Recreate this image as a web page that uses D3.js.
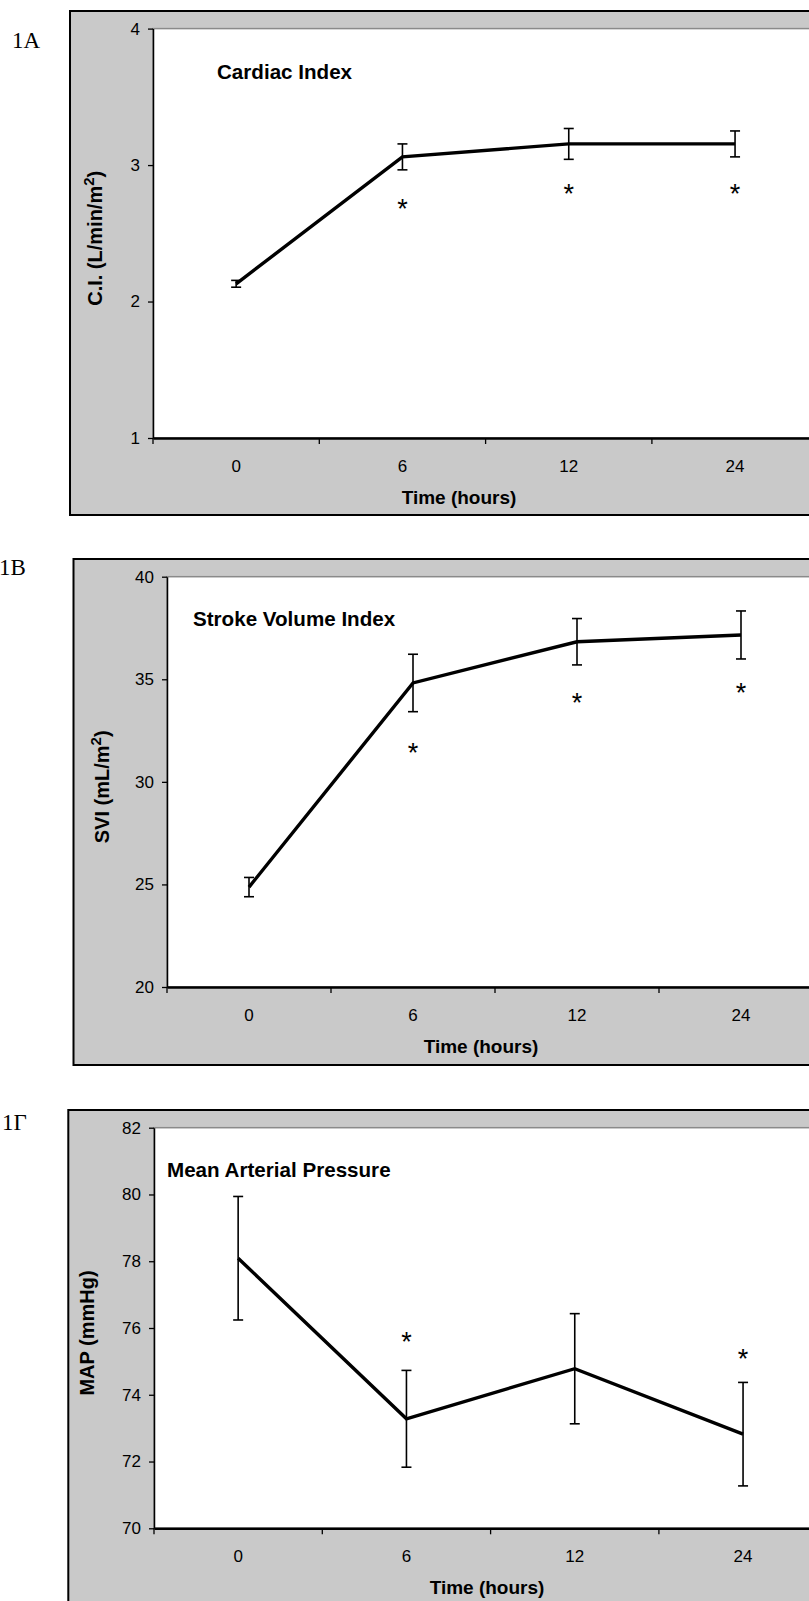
<!DOCTYPE html>
<html>
<head>
<meta charset="utf-8">
<script src="https://cdn.jsdelivr.net/npm/d3@7"></script>
<style>
  body { margin: 0; background: #fff; }
  svg { display: block; }
  .tick text { font-family: "Liberation Sans", Arial, sans-serif; font-size: 17px; fill: #000; }
</style>
</head>
<body>
<svg id="fig" width="809" height="1601"></svg>
<script>
// time points (categories on x)
const timeLabels = ["0", "6", "12", "24"];

// 1A cardiac index
const ciMean = [2.13, 3.06, 3.155, 3.155];
const ciSem = [0.025, 0.095, 0.113, 0.095];
const ciStar = [null, 2.72, 2.83, 2.83];
const ciTicks = [1, 2, 3, 4];

// 1B stroke volume index
const sviMean = [24.87, 34.82, 36.83, 37.16];
const sviSem = [0.47, 1.4, 1.13, 1.17];
const sviStar = [null, 31.68, 34.15, 34.6];
const sviTicks = [20, 25, 30, 35, 40];

// 1Γ mean arterial pressure
const mapMean = [78.09, 73.28, 74.78, 72.82];
const mapSem = [1.85, 1.45, 1.65, 1.55];
const mapStar = [null, 75.76, null, 75.24];
const mapTicks = [70, 72, 74, 76, 78, 80, 82];

const panels = [
  {
    tag: "1Α", tagX: 12, tagY: 48,
    title: "Cardiac Index", ylabel: ["C.I. (L/min/m", "2", ")"],
    mean: ciMean, sem: ciSem, star: ciStar, ticks: ciTicks,
    box: { x: 70, y: 11, b: 515 },
    plot: { l: 153, t: 28.6, b: 438, w: 166.3 },
    titleX: 217, titleY: 79, xTitleX: 459, yTitleX: 95
  },
  {
    tag: "1Β", tagX: -1, tagY: 575,
    title: "Stroke Volume Index", ylabel: ["SVI (mL/m", "2", ")"],
    mean: sviMean, sem: sviSem, star: sviStar, ticks: sviTicks,
    box: { x: 73.5, y: 559, b: 1065 },
    plot: { l: 167, t: 576.7, b: 987, w: 164 },
    titleX: 193, titleY: 626, xTitleX: 481, yTitleX: 102
  },
  {
    tag: "1Γ", tagX: 2, tagY: 1130,
    title: "Mean Arterial Pressure", ylabel: ["MAP (mmHg)"],
    mean: mapMean, sem: mapSem, star: mapStar, ticks: mapTicks,
    box: { x: 68.3, y: 1110, b: 1640 },
    plot: { l: 154, t: 1127.7, b: 1528.3, w: 168.3 },
    titleX: 167, titleY: 1176.5, xTitleX: 487, yTitleX: 87
  }
];

const svg = d3.select("#fig");
const sans = "'Liberation Sans', Arial, sans-serif";
const starSize = 27;

panels.forEach((p) => {
  const g = svg.append("g");
  const right = p.plot.l + p.plot.w * timeLabels.length;

  // outer grey chart area
  g.append("rect")
    .attr("x", p.box.x).attr("y", p.box.y)
    .attr("width", 900).attr("height", p.box.b - p.box.y)
    .attr("fill", "#c9c9c9").attr("stroke", "#000").attr("stroke-width", 2);

  // white plot area
  g.append("rect")
    .attr("x", p.plot.l).attr("y", p.plot.t)
    .attr("width", right - p.plot.l).attr("height", p.plot.b - p.plot.t)
    .attr("fill", "#fff").attr("stroke", "#8a8a8a").attr("stroke-width", 1.5);

  const x = d3.scaleBand().domain(timeLabels).range([p.plot.l, right]);
  const y = d3.scaleLinear()
    .domain(d3.extent(p.ticks))
    .range([p.plot.b, p.plot.t]);

  // y axis
  const ya = g.append("g")
    .attr("transform", `translate(${p.plot.l},0)`)
    .call(d3.axisLeft(y).tickValues(p.ticks).tickFormat(d3.format("d"))
      .tickSize(5).tickSizeOuter(0).tickPadding(8));
  ya.select(".domain").attr("stroke-width", 1.5);
  ya.selectAll(".tick line").attr("stroke-width", 1.3);

  // x axis (labels centred in bands, tick marks on band edges)
  const xa = g.append("g")
    .attr("transform", `translate(0,${p.plot.b})`)
    .call(d3.axisBottom(x).tickSize(0).tickSizeOuter(0).tickPadding(22));
  xa.select(".domain").attr("stroke-width", 2.5);
  g.selectAll(".edge")
    .data(d3.range(timeLabels.length + 1))
    .enter()
    .append("line")
    .attr("x1", (i) => p.plot.l + i * x.bandwidth())
    .attr("x2", (i) => p.plot.l + i * x.bandwidth())
    .attr("y1", p.plot.b)
    .attr("y2", p.plot.b + 6)
    .attr("stroke", "#000").attr("stroke-width", 1.3);

  const cx = (i) => x(timeLabels[i]) + x.bandwidth() / 2;

  // error bars
  const eb = g.selectAll(".err")
    .data(p.mean)
    .enter()
    .append("g");
  eb.append("line")
    .attr("x1", (d, i) => cx(i)).attr("x2", (d, i) => cx(i))
    .attr("y1", (d, i) => y(d + p.sem[i])).attr("y2", (d, i) => y(d - p.sem[i]))
    .attr("stroke", "#000").attr("stroke-width", 1.6);
  [1, -1].forEach((s) => {
    eb.append("line")
      .attr("x1", (d, i) => cx(i) - 5).attr("x2", (d, i) => cx(i) + 5)
      .attr("y1", (d, i) => y(d + s * p.sem[i])).attr("y2", (d, i) => y(d + s * p.sem[i]))
      .attr("stroke", "#000").attr("stroke-width", 1.6);
  });

  // mean line
  g.append("path")
    .datum(p.mean)
    .attr("fill", "none")
    .attr("stroke", "#000")
    .attr("stroke-width", 3.4)
    .attr("stroke-linejoin", "miter")
    .attr("d", d3.line().x((d, i) => cx(i)).y((d) => y(d)));

  // significance marks
  g.selectAll(".star")
    .data(p.star.map((v, i) => ({ v, i })).filter((d) => d.v != null))
    .enter()
    .append("text")
    .attr("x", (d) => cx(d.i))
    .attr("y", (d) => y(d.v) + starSize * 0.55)
    .attr("text-anchor", "middle")
    .attr("font-family", sans)
    .attr("font-size", starSize)
    .text("*");

  // chart title
  g.append("text")
    .attr("x", p.titleX).attr("y", p.titleY)
    .attr("font-family", sans).attr("font-weight", "bold").attr("font-size", 20.6)
    .text(p.title);

  // x axis title
  g.append("text")
    .attr("x", p.xTitleX).attr("y", p.plot.b + 66)
    .attr("text-anchor", "middle")
    .attr("font-family", sans).attr("font-weight", "bold").attr("font-size", 19)
    .text("Time (hours)");

  // y axis title
  const yt = g.append("text")
    .attr("transform", `translate(${p.yTitleX + 7},${(p.plot.t + p.plot.b) / 2 + 5}) rotate(-90)`)
    .attr("text-anchor", "middle")
    .attr("font-family", sans).attr("font-weight", "bold").attr("font-size", 20);
  yt.append("tspan").text(p.ylabel[0]);
  if (p.ylabel.length > 1) {
    yt.append("tspan").attr("dy", -8).attr("font-size", 15).text(p.ylabel[1]);
    yt.append("tspan").attr("dy", 8).text(p.ylabel[2]);
  }

  // panel tag
  svg.append("text")
    .attr("x", p.tagX).attr("y", p.tagY)
    .attr("font-family", "'Liberation Serif', 'Times New Roman', serif")
    .attr("font-size", 23)
    .text(p.tag);
});
</script>
</body>
</html>
